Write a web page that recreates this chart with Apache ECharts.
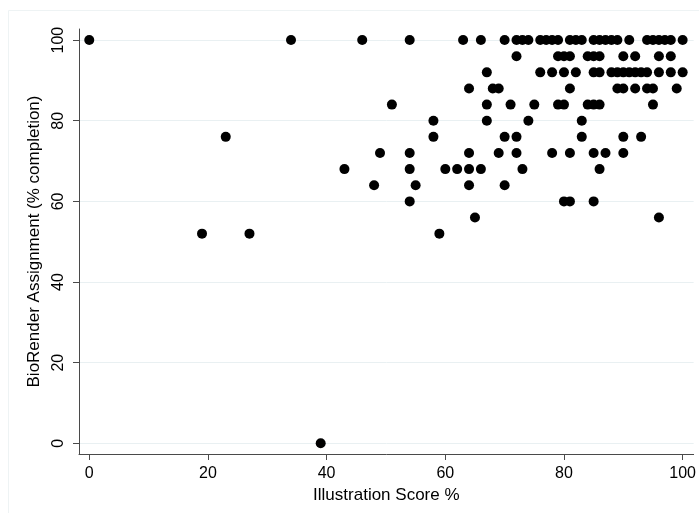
<!DOCTYPE html>
<html><head><meta charset="utf-8">
<script src="https://cdn.jsdelivr.net/npm/echarts@6/dist/echarts.min.js"></script>
<style>html,body{margin:0;padding:0;background:#fff}#c{width:699px;height:513px}</style>
</head><body><div id="c"></div>
<script>
// Tick labels
const xTicks = [0, 20, 40, 60, 80, 100];
const yTicks = [0, 20, 40, 60, 80, 100];

// Illustration Score % values grouped by BioRender Assignment (% completion)
const at100 = [0, 34, 46, 54, 63, 66, 70, 72, 73, 74, 76, 77, 78, 79, 81, 82, 83, 85, 86, 87, 88, 89, 91, 94, 95, 96, 97, 98, 100];
const at96 = [72, 79, 80, 81, 84, 85, 86, 90, 92, 96, 98];
const at92 = [67, 76, 78, 80, 82, 85, 86, 88, 89, 90, 91, 92, 93, 94, 96, 98, 100];
const at88 = [64, 68, 69, 81, 89, 90, 92, 94, 95, 99];
const at84 = [51, 67, 71, 75, 79, 80, 84, 85, 86, 95];
const at80 = [58, 67, 74, 83];
const at76 = [23, 58, 70, 72, 83, 90, 93];
const at72 = [49, 54, 64, 69, 72, 78, 81, 85, 87, 90];
const at68 = [43, 54, 60, 62, 64, 66, 73, 86];
const at64 = [48, 55, 64, 70];
const at60 = [54, 80, 81, 85];
const at56 = [65, 96];
const at52 = [19, 27, 59];
const at0 = [39];

const levels = [100, 96, 92, 88, 84, 80, 76, 72, 68, 64, 60, 56, 52, 0];
const groups = [at100, at96, at92, at88, at84, at80, at76, at72, at68, at64, at60, at56, at52, at0];

const points = [];
groups.forEach((g, i) => g.forEach(x => points.push([x, levels[i]])));

const font = '"Liberation Sans", Arial, Helvetica, sans-serif';
const axisColor = '#4a4a4a';
const gridColor = '#e9f0f2';

const chart = echarts.init(document.getElementById('c'), null, {renderer: 'canvas'});
chart.setOption({
  animation: false,
  backgroundColor: '#ffffff',
  textStyle: {fontFamily: font},
  graphic: [{
    type: 'rect', silent: true, z: -10,
    shape: {x: 8.5, y: 10.5, width: 700, height: 520},
    style: {fill: 'none', stroke: '#eef3f4', lineWidth: 1}
  }],
  grid: {left: 79, right: 4, top: 29, bottom: 59, containLabel: false},
  xAxis: {
    type: 'value',
    min: -1.73, max: 101.85,
    name: 'Illustration Score %',
    nameLocation: 'middle',
    nameGap: 30,
    nameTextStyle: {fontSize: 17, color: '#000', fontFamily: font},
    axisLine: {show: true, onZero: false, lineStyle: {color: axisColor, width: 1}},
    axisTick: {show: true, length: 6, customValues: xTicks, lineStyle: {color: axisColor}},
    axisLabel: {customValues: xTicks, fontSize: 16, color: '#000', margin: 12, fontFamily: font},
    splitLine: {show: false}
  },
  yAxis: {
    type: 'value',
    min: -2.65, max: 102.75,
    name: 'BioRender Assignment (% completion)',
    nameLocation: 'middle',
    nameGap: 28,
    nameTextStyle: {fontSize: 17, color: '#000', fontFamily: font},
    axisLine: {show: true, onZero: false, lineStyle: {color: axisColor, width: 1}},
    axisTick: {show: true, length: 6, customValues: yTicks, lineStyle: {color: axisColor}},
    axisLabel: {customValues: yTicks, rotate: 90, fontSize: 16, color: '#000', margin: 12, fontFamily: font},
    splitLine: {show: true, lineStyle: {color: gridColor, width: 1}}
  },
  series: [{
    type: 'scatter',
    data: points,
    symbol: 'circle',
    symbolSize: 10,
    clip: false,
    itemStyle: {color: '#000', opacity: 1},
    emphasis: {disabled: true}
  }]
});
</script>
</body></html>
